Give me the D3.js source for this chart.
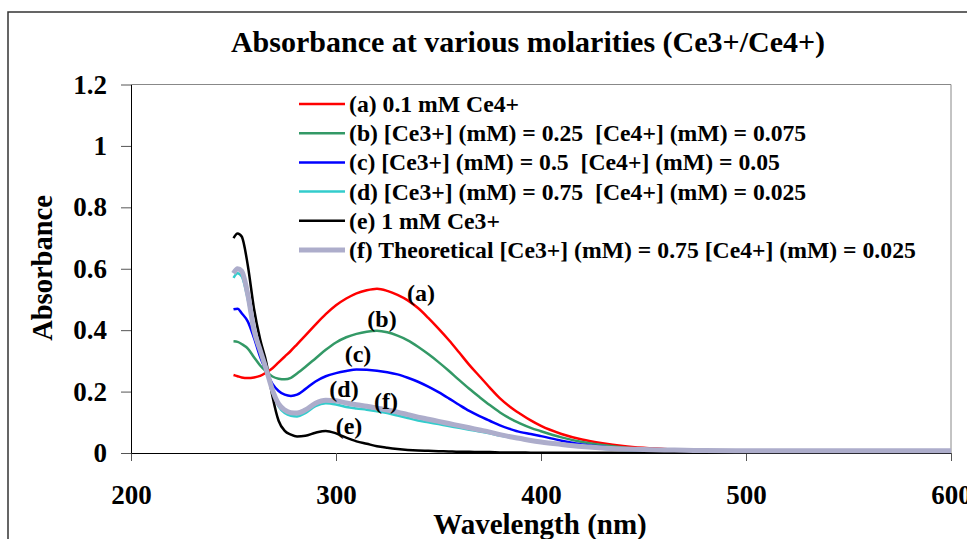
<!DOCTYPE html>
<html>
<head>
<meta charset="utf-8">
<script src="https://cdn.jsdelivr.net/npm/d3@7"></script>
<style>
  body { margin: 0; background: #fff; }
  text { font-family: "Liberation Serif", "Times New Roman", serif; font-weight: bold; }
</style>
</head>
<body>
<div id="chart"></div>
<script>
// wavelength grid (nm) shared by every series
const wavelengths = [250, 252, 254, 257, 260, 263, 266, 269, 272, 275, 278, 281, 285, 290, 295, 300, 305, 310, 315, 320, 325, 330, 335, 340, 345, 350, 355, 360, 365, 370, 375, 380, 385, 390, 395, 400, 410, 420, 430, 440, 450, 460, 470, 480, 500, 550, 600];

const absA = [0.254, 0.250, 0.246, 0.244, 0.246, 0.251, 0.262, 0.276, 0.295, 0.314, 0.333, 0.354, 0.382, 0.418, 0.452, 0.481, 0.503, 0.520, 0.530, 0.535, 0.528, 0.515, 0.497, 0.472, 0.440, 0.405, 0.368, 0.328, 0.287, 0.250, 0.213, 0.178, 0.150, 0.127, 0.106, 0.088, 0.062, 0.044, 0.032, 0.023, 0.017, 0.013, 0.009, 0.006, 0.004, 0.003, 0.003];
const absB = [0.364, 0.362, 0.355, 0.340, 0.312, 0.285, 0.265, 0.249, 0.242, 0.240, 0.245, 0.259, 0.280, 0.308, 0.336, 0.360, 0.377, 0.388, 0.395, 0.398, 0.393, 0.382, 0.367, 0.346, 0.322, 0.296, 0.268, 0.238, 0.209, 0.182, 0.156, 0.132, 0.112, 0.096, 0.082, 0.071, 0.051, 0.036, 0.026, 0.018, 0.012, 0.008, 0.006, 0.004, 0.003, 0.002, 0.002];
const absC = [0.468, 0.470, 0.455, 0.428, 0.375, 0.313, 0.266, 0.225, 0.202, 0.190, 0.186, 0.190, 0.208, 0.233, 0.250, 0.260, 0.267, 0.272, 0.271, 0.268, 0.263, 0.256, 0.245, 0.232, 0.216, 0.198, 0.178, 0.157, 0.137, 0.120, 0.105, 0.090, 0.078, 0.068, 0.062, 0.055, 0.040, 0.028, 0.020, 0.012, 0.007, 0.004, 0.003, 0.002, 0.002, 0.002, 0.002];
const absD = [0.570, 0.585, 0.575, 0.500, 0.390, 0.330, 0.270, 0.200, 0.152, 0.130, 0.121, 0.119, 0.130, 0.153, 0.162, 0.158, 0.150, 0.145, 0.141, 0.136, 0.130, 0.122, 0.114, 0.106, 0.100, 0.094, 0.088, 0.082, 0.076, 0.070, 0.064, 0.057, 0.051, 0.046, 0.041, 0.036, 0.028, 0.020, 0.014, 0.010, 0.008, 0.006, 0.005, 0.004, 0.004, 0.003, 0.003];
const absE = [0.700, 0.715, 0.705, 0.610, 0.470, 0.370, 0.295, 0.185, 0.105, 0.072, 0.060, 0.054, 0.056, 0.066, 0.072, 0.064, 0.050, 0.038, 0.030, 0.022, 0.017, 0.013, 0.010, 0.008, 0.007, 0.006, 0.005, 0.004, 0.004, 0.003, 0.003, 0.002, 0.002, 0.002, 0.001, 0.001, 0.001, 0.001, 0.001, 0.001, 0.001, 0.001, 0.001, 0.001, 0.001, 0.001, 0.001];
const absF = [0.585, 0.600, 0.592, 0.515, 0.400, 0.335, 0.272, 0.205, 0.160, 0.140, 0.131, 0.130, 0.140, 0.162, 0.172, 0.170, 0.163, 0.157, 0.152, 0.146, 0.140, 0.133, 0.125, 0.117, 0.110, 0.103, 0.096, 0.089, 0.082, 0.075, 0.068, 0.060, 0.053, 0.047, 0.041, 0.036, 0.028, 0.021, 0.016, 0.013, 0.011, 0.010, 0.009, 0.008, 0.007, 0.007, 0.007];

const legendLabels = [
  "(a) 0.1 mM Ce4+",
  "(b) [Ce3+] (mM) = 0.25  [Ce4+] (mM) = 0.075",
  "(c) [Ce3+] (mM) = 0.5  [Ce4+] (mM) = 0.05",
  "(d) [Ce3+] (mM) = 0.75  [Ce4+] (mM) = 0.025",
  "(e) 1 mM Ce3+",
  "(f) Theoretical [Ce3+] (mM) = 0.75 [Ce4+] (mM) = 0.025"
];
const curveTags = ["(a)", "(b)", "(c)", "(d)", "(e)", "(f)"];
const xTicks = [200, 300, 400, 500, 600];
const yTicks = [0, 0.2, 0.4, 0.6, 0.8, 1, 1.2];

const colors = ["#ff0000", "#339966", "#0000ff", "#33cccc", "#000000", "#adadcb"];
const widths = [2.5, 2.5, 2.5, 2.5, 2.5, 5];

const W = 967, H = 539;
const plot = { left: 131, right: 951, top: 84.5, bottom: 453 };

const svg = d3.select("#chart").append("svg")
  .attr("width", W)
  .attr("height", H);

// chart border (runs off the right and bottom edge)
svg.append("rect")
  .attr("x", 8).attr("y", 12)
  .attr("width", 1000).attr("height", 600)
  .attr("fill", "none")
  .attr("stroke", "#333")
  .attr("stroke-width", 1.5);

svg.append("text")
  .attr("x", 528).attr("y", 52)
  .attr("text-anchor", "middle")
  .attr("font-size", 30)
  .text("Absorbance at various molarities (Ce3+/Ce4+)");

const x = d3.scaleLinear().domain([200, 600]).range([plot.left, plot.right]);
const y = d3.scaleLinear().domain([0, 1.2]).range([plot.bottom, plot.top]);

// plot area frame (top + right in gray)
svg.append("path")
  .attr("d", `M${plot.left},${plot.top}H${plot.right}V${plot.bottom}`)
  .attr("fill", "none")
  .attr("stroke", "#888")
  .attr("stroke-width", 1);

const xAxis = svg.append("g")
  .attr("transform", `translate(0,${plot.bottom})`)
  .call(d3.axisBottom(x).tickValues(xTicks).tickFormat(d3.format("d")).tickSizeInner(8).tickSizeOuter(0).tickPadding(24));

const yAxis = svg.append("g")
  .attr("transform", `translate(${plot.left},0)`)
  .call(d3.axisLeft(y).tickValues(yTicks).tickFormat(d => d === 0 || d === 1 ? d : d3.format(".1f")(d)).tickSizeInner(10).tickSizeOuter(0).tickPadding(14));

[xAxis, yAxis].forEach(g => {
  g.select(".domain").attr("stroke", "#000");
  g.selectAll(".tick line").attr("stroke", "#555");
  g.selectAll(".tick text")
    .attr("font-family", "Liberation Serif, serif")
    .attr("font-weight", "bold")
    .attr("font-size", 27)
    .attr("fill", "#000");
});

svg.append("text")
  .attr("x", 540).attr("y", 534)
  .attr("text-anchor", "middle")
  .attr("font-size", 29)
  .text("Wavelength (nm)");

svg.append("text")
  .attr("transform", "translate(52,268) rotate(-90)")
  .attr("text-anchor", "middle")
  .attr("font-size", 28.5)
  .text("Absorbance");

const allSeries = [absA, absB, absC, absD, absE, absF];

const line = d3.line()
  .x((d, i) => x(wavelengths[i]))
  .y(d => y(d))
  .curve(d3.curveMonotoneX);

svg.append("g")
  .selectAll("path")
  .data(allSeries)
  .enter()
  .append("path")
  .attr("d", d => line(d))
  .attr("fill", "none")
  .attr("stroke", (d, i) => colors[i])
  .attr("stroke-width", (d, i) => widths[i])
  .attr("stroke-linejoin", "round");

// legend
const legend = svg.append("g");
legendLabels.forEach((lab, i) => {
  const ly = 104 + i * 29.2;
  legend.append("line")
    .attr("x1", 299).attr("x2", 345)
    .attr("y1", ly).attr("y2", ly)
    .attr("stroke", colors[i])
    .attr("stroke-width", i === 5 ? 5 : 2.5);
  legend.append("text")
    .attr("x", 349).attr("y", ly + 8)
    .attr("font-size", 23.7)
    .attr("xml:space", "preserve")
    .style("white-space", "pre")
    .text(lab);
});

// labels next to the curves
const tagPos = [[421, 301], [382, 327], [358, 362], [344, 397], [349, 434], [386, 409]];
curveTags.forEach((t, i) => {
  svg.append("text")
    .attr("x", tagPos[i][0]).attr("y", tagPos[i][1])
    .attr("text-anchor", "middle")
    .attr("font-size", 24)
    .text(t);
});
</script>
</body>
</html>
